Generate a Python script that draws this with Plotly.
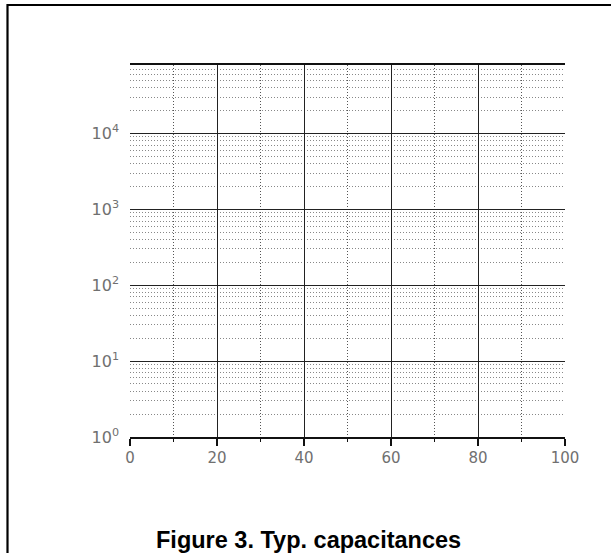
import plotly.graph_objects as go

# axis definitions
x_range = [0, 100]
x_tickvals = [0, 20, 40, 60, 80, 100]
x_minor_step = 10
y_log_range = [0, 4.9]
y_tickvals = [1, 10, 100, 1000, 10000]
y_ticktext = ["10<sup>0</sup>", "10<sup>1</sup>", "10<sup>2</sup>", "10<sup>3</sup>", "10<sup>4</sup>"]
caption = "Figure 3. Typ. capacitances"

W, H = 611, 553
L, R, T, B = 130, 46, 65, 116
pw, ph = W - L - R, H - T - B

def px(x):
    return (x - L) / pw

def py(y):
    return (H - B - y) / ph

x_tick_font = dict(family="DejaVu Sans, sans-serif", size=15, color="#707070")
y_tick_font = dict(family="DejaVu Sans, sans-serif", size=16, color="#707070")

fig = go.Figure()
fig.add_trace(go.Scatter(x=[], y=[], mode="lines", showlegend=False))
fig.add_trace(go.Scatter(x=[], y=[], mode="lines", showlegend=False, xaxis="x2"))

fig.update_layout(
    width=W, height=H,
    margin=dict(l=L, r=R, t=T, b=B, pad=0),
    paper_bgcolor="white", plot_bgcolor="white",
    showlegend=False,
    xaxis=dict(
        range=x_range, tickvals=x_tickvals, ticktext=[str(v) for v in x_tickvals],
        showline=True, linecolor="#111111", linewidth=1.5,
        ticks="outside", ticklen=7, tickwidth=1.5, tickcolor="#111111",
        showgrid=True, gridcolor="#222222", gridwidth=1.2,
        zeroline=False, tickfont=x_tick_font, ticklabelstandoff=-1,
        minor=dict(dtick=x_minor_step, tick0=0, ticks="outside", ticklen=3,
                   tickwidth=1.2, tickcolor="#111111",
                   showgrid=True, gridcolor="#555555", griddash="1px,2px", gridwidth=1),
    ),
    xaxis2=dict(
        overlaying="x", matches="x", side="top", anchor="y",
        showline=True, linecolor="#111111", linewidth=1.5,
        showgrid=False, showticklabels=False, ticks="", zeroline=False,
    ),
    yaxis=dict(
        type="log", range=y_log_range, tickvals=y_tickvals, ticktext=y_ticktext,
        showline=False, ticks="", zeroline=False,
        showgrid=True, gridcolor="#222222", gridwidth=1.2,
        tickfont=y_tick_font, ticklabelstandoff=10,
        minor=dict(dtick="D1", showgrid=True, gridcolor="#888888",
                   griddash="1px,2px", gridwidth=1, ticks=""),
    ),
    shapes=[
        dict(type="path", xref="paper", yref="paper",
             path=f"M {px(7.5)} {py(560)} L {px(7.5)} {py(5)} L {px(615)} {py(5)}",
             line=dict(color="black", width=2.2)),
    ],
    annotations=[
        dict(text=f"<b>{caption}</b>", xref="paper", yref="paper",
             x=px(308), y=py(540), xanchor="center", yanchor="middle",
             showarrow=False,
             font=dict(family="Liberation Sans, Arial, sans-serif", size=23.5, color="black")),
    ],
)

fig.write_html("out.html")
